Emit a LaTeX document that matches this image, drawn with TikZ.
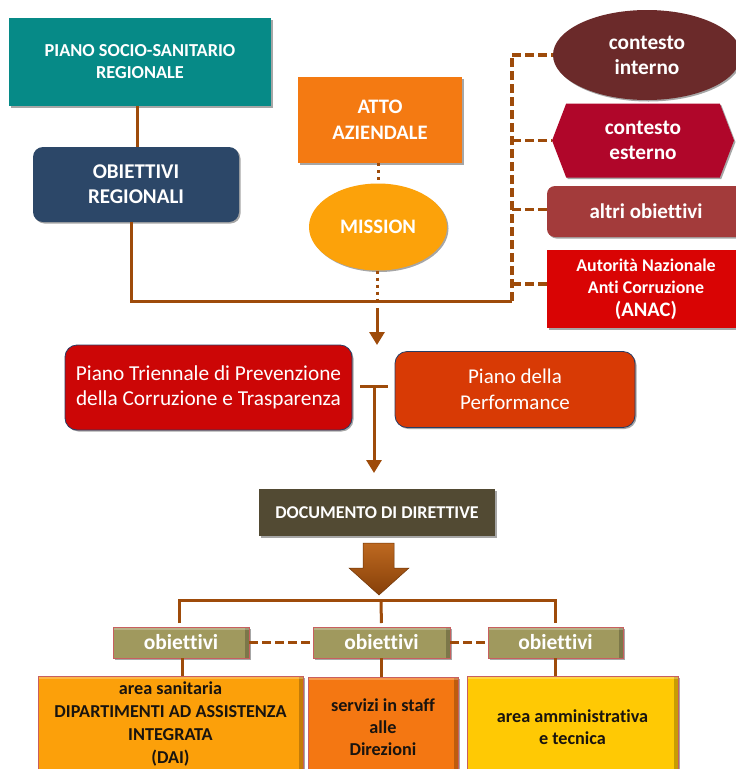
\documentclass[tikz,border=0pt]{standalone}
\usepackage{fontspec}
\setmainfont{Carlito}[Ligatures=NoCommon]
\usetikzlibrary{shapes.geometric,shapes.symbols,arrows.meta,shadows,calc}

\definecolor{lnk}{RGB}{158,75,10}
\definecolor{cteal}{RGB}{6,138,135}
\definecolor{cnavy}{RGB}{44,71,104}
\definecolor{catto}{RGB}{244,122,18}
\definecolor{cmiss}{RGB}{252,162,10}
\definecolor{cint}{RGB}{107,42,42}
\definecolor{cest}{RGB}{176,6,42}
\definecolor{calt}{RGB}{163,59,59}
\definecolor{canac}{RGB}{217,4,4}
\definecolor{cptpc}{RGB}{204,6,6}
\definecolor{cperf}{RGB}{216,58,5}
\definecolor{cdoc}{RGB}{82,74,51}
\definecolor{cobj}{RGB}{160,153,94}
\definecolor{csan}{RGB}{252,160,10}
\definecolor{cser}{RGB}{244,119,18}
\definecolor{camm}{RGB}{255,201,4}
\definecolor{cedge}{RGB}{40,60,100}
\definecolor{cpink}{RGB}{200,95,95}
\definecolor{ctext}{RGB}{25,20,15}

\newcommand{\myfs}[2]{\fontsize{#1}{#2}\selectfont}

\tikzset{
  box/.style={draw=none, inner sep=2pt, outer sep=0pt, align=center, text=white,
    drop shadow={shadow xshift=1.5pt, shadow yshift=-1.5pt, opacity=0.35, fill=black}},
  bevel/.style={path picture={
    \fill[black,opacity=0.22] (path picture bounding box.north east) rectangle ([xshift=-4pt]path picture bounding box.south east);
    \fill[white,opacity=0.25] (path picture bounding box.north west) rectangle ([yshift=-3pt]path picture bounding box.north east);}},
  conn/.style={draw=lnk, line width=3pt},
  dconn/.style={draw=lnk, line width=3.3pt, dash pattern=on 9pt off 4pt},
  dotc/.style={draw=lnk, line width=3pt, dash pattern=on 3pt off 4pt},
  tip/.style={-{Triangle[width=15pt,length=13pt]}}
}

\begin{document}
\begin{tikzpicture}[x=1pt,y=-1pt]
\useasboundingbox (0,0) rectangle (736,769);
\clip (0,0) rectangle (736,769);
\fill[white] (0,0) rectangle (736,769);

% top left
\node[box, fill=cteal, minimum width=262pt, minimum height=88pt, font=\bfseries\myfs{18.3}{22}] (pssr) at (140,62) {PIANO SOCIO-SANITARIO\\REGIONALE};
\node[box, fill=cnavy, rounded corners=10pt, minimum width=206pt, minimum height=75pt, font=\bfseries\myfs{21}{25}] (objreg) at (136,184.5) {OBIETTIVI\\REGIONALI};

% middle
\node[box, fill=catto, minimum width=164pt, minimum height=86pt, font=\bfseries\myfs{20.6}{26}] (atto) at (380,120) {ATTO\\AZIENDALE};
\node[box, ellipse, fill=cmiss, minimum width=138pt, minimum height=87pt, font=\bfseries\myfs{20.6}{24}] (mission) at (378,227) {MISSION};

% right column
\node[box, ellipse, fill=cint, minimum width=188pt, minimum height=90pt, font=\bfseries\myfs{21.3}{25}] (ctxint) at (647,55) {contesto\\interno};
\node[box, signal, signal to=west and east, signal pointer angle=138, fill=cest, minimum width=182pt, minimum height=74pt, font=\bfseries\myfs{21.3}{25}] (ctxest) at (643,140.5) {contesto\\esterno};
\node[box, fill=calt, rounded corners=8pt, minimum width=198pt, minimum height=51pt, font=\bfseries\myfs{21}{24}] (altri) at (646,211.5) {altri obiettivi};
\node[box, fill=canac, minimum width=198pt, minimum height=78pt, font=\bfseries\myfs{17.9}{22}] (anac) at (646,289) {Autorità Nazionale\\Anti Corruzione\\[1pt]{\myfs{20.6}{22}(ANAC)}};

% plans
\node[box, fill=cptpc, draw=cedge, line width=0.8pt, rounded corners=12pt, minimum width=287pt, minimum height=85pt, font=\myfs{21.3}{25}] (ptpc) at (208.5,387.5) {Piano Triennale di Prevenzione\\della Corruzione e Trasparenza};
\node[box, fill=cperf, draw=cedge, line width=0.8pt, rounded corners=12pt, minimum width=240pt, minimum height=76pt, font=\myfs{21}{26}] (perf) at (515,389.5) {Piano della\\Performance};

\node[box, fill=cdoc, minimum width=236pt, minimum height=47pt, font=\bfseries\myfs{18}{20}] (doc) at (377,512.5) {DOCUMENTO DI DIRETTIVE};

% obiettivi
\node[box, bevel, fill=cobj, draw=cpink, line width=0.6pt, minimum width=136pt, minimum height=31pt, font=\bfseries\myfs{21.5}{22}] (obj1) at (181,642.5) {obiettivi};
\node[box, bevel, fill=cobj, draw=cpink, line width=0.6pt, minimum width=137pt, minimum height=31pt, font=\bfseries\myfs{21.5}{22}] (obj2) at (381.5,642.5) {obiettivi};
\node[box, bevel, fill=cobj, draw=cpink, line width=0.6pt, minimum width=135pt, minimum height=31pt, font=\bfseries\myfs{21.5}{22}] (obj3) at (555.5,642.5) {obiettivi};

% bottom areas
\node[box, bevel, fill=csan, draw=cpink, line width=0.6pt, text=ctext, minimum width=265pt, minimum height=96pt, font=\bfseries\myfs{18.2}{22.7}] (sanit) at (170.5,724) {area sanitaria\\DIPARTIMENTI AD ASSISTENZA\\INTEGRATA\\(DAI)};
\node[box, bevel, fill=cser, draw=cpink, line width=0.6pt, text=ctext, minimum width=150pt, minimum height=100pt, font=\bfseries\myfs{18.2}{22}] (servizi) at (383,727) {servizi in staff\\alle\\Direzioni};
\node[box, bevel, fill=camm, draw=cpink, line width=0.6pt, text=ctext, minimum width=211pt, minimum height=102pt, font=\bfseries\myfs{18.2}{22}] (amm) at (572.5,727) {area amministrativa\\e tecnica};

% coordinates
\coordinate (j) at (512,301);
\coordinate (m) at (377,301);
\coordinate (a1) at (377,345);
\coordinate (tl) at (360,386);
\coordinate (tr) at (388,386);
\coordinate (t) at (374,386);
\coordinate (a2) at (374,473);
\coordinate (bus) at (381,600);

% connectors top
\draw[conn] ([xshift=-3pt]pssr.south) -- ([xshift=-3pt]pssr.south |- objreg.north);
\draw[conn] ([xshift=-5pt]objreg.south) |- (j);
\draw[dconn] (j) -- (j |- ctxint.west);
\draw[dconn] (j |- ctxint.west) -- (ctxint.west);
\draw[dconn] (j |- ctxest.west) -- (ctxest.west);
\draw[dconn] ([yshift=2pt]j |- altri.west) -- ([yshift=2pt]altri.west);
\draw[dconn] ([yshift=5pt]j |- anac.west) -- ([yshift=5pt]anac.west);
\draw[dotc] (mission.north |- atto.south) -- (mission.north);
\draw[dotc] (m |- mission.south) -- (m);
\draw[conn, tip] ([yshift=-7pt]m) -- (a1);
\draw[conn] (tl) -- (tr);
\draw[conn, tip] (t) -- (a2);

% block arrow
\path[top color=lnk!75!orange!90!white, bottom color=lnk!85!black, draw=lnk!70!black, line width=0.5pt]
  (363,543) -- (394,543) -- (394,568) -- (409,568) -- (379,595) -- (349,568) -- (363,568) -- cycle;

% connectors bottom
\draw[conn, shorten <=4pt, shorten >=4pt] ([xshift=-2pt]obj1.north) |- (bus) -| (obj3.north);
\draw[conn, shorten >=4pt] (bus) -- (obj2.north);
\draw[dconn] (obj1.east) -- (obj2.west);
\draw[dconn] (obj2.east) -- (obj3.west);
\draw[conn] ([xshift=1pt]obj1.south) -- ([xshift=1pt]obj1.south |- sanit.north);
\draw[conn] (obj2.south) -- (obj2.south |- servizi.north);
\draw[conn] (obj3.south) -- (obj3.south |- amm.north);
\end{tikzpicture}
\end{document}
